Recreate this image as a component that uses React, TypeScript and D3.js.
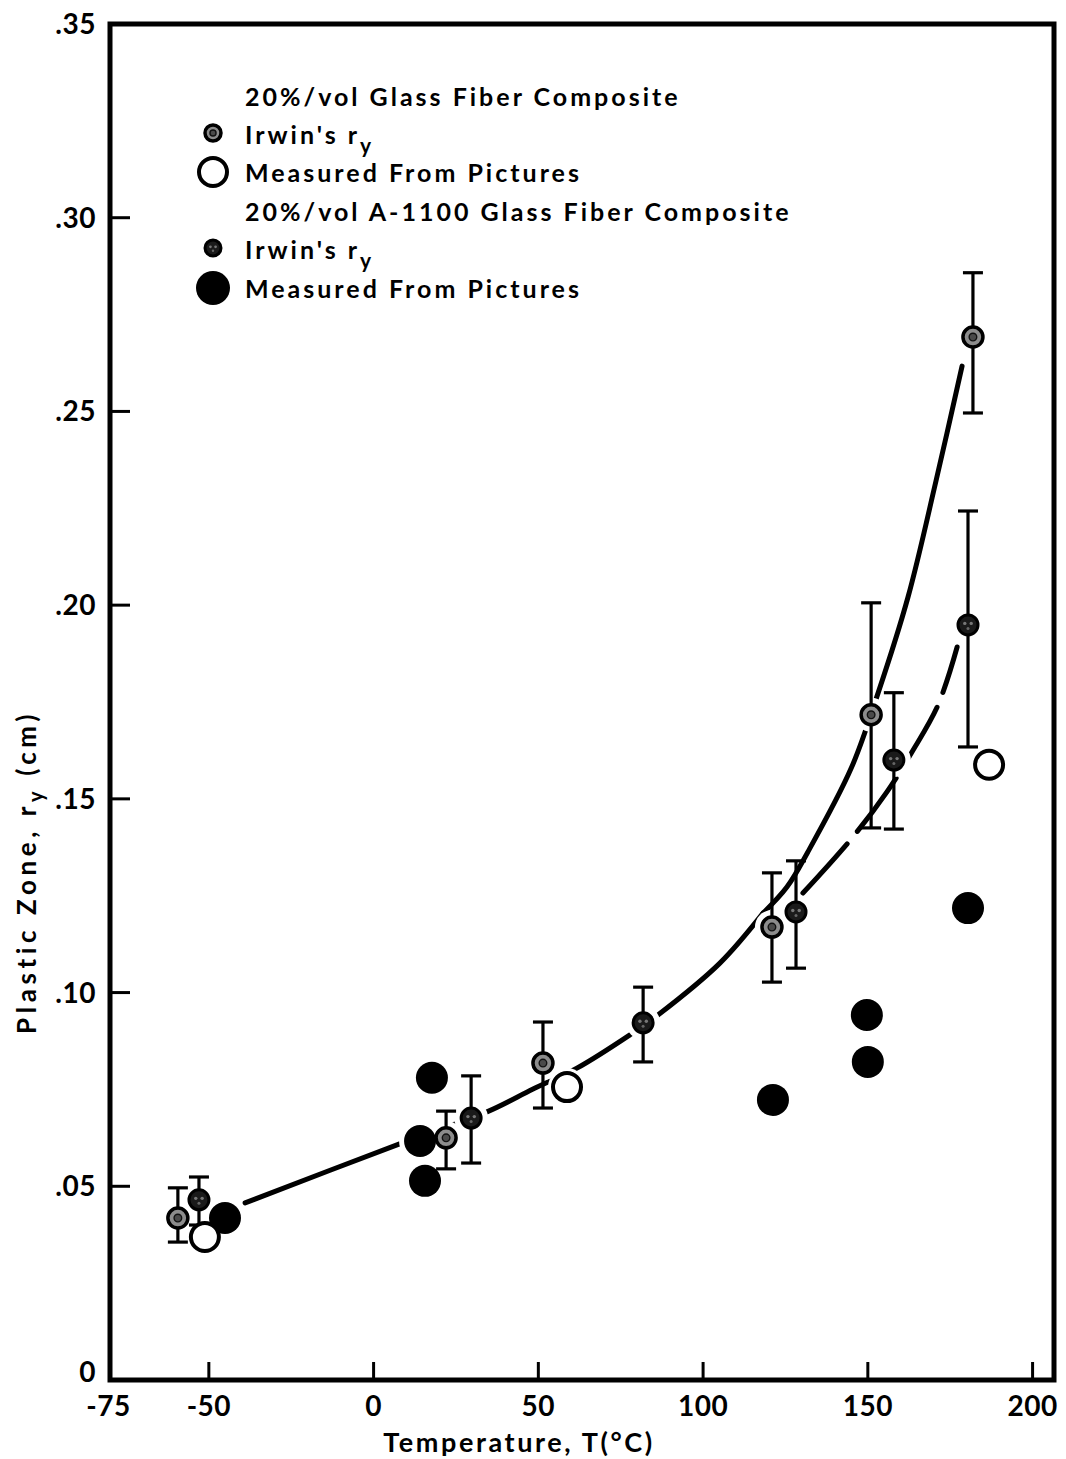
import React from "react";
import * as d3 from "d3";

const W = 1066;
const H = 1459;

// 20%/vol Glass Fiber Composite — Irwin's r_y (with error bars)
const gfIrwinT = [-59.4, 22.0, 51.4, 120.9, 151.0, 181.9];
const gfIrwinV = [0.0418, 0.0625, 0.0818, 0.1169, 0.1717, 0.2692];
const gfIrwinLo = [0.0356, 0.0545, 0.0702, 0.1027, 0.1425, 0.2496];
const gfIrwinHi = [0.0496, 0.0694, 0.0924, 0.1309, 0.2006, 0.2858];

// 20%/vol A-1100 Glass Fiber Composite — Irwin's r_y (with error bars)
const aIrwinT = [-53.0, 29.6, 81.8, 128.2, 157.9, 180.4];
const aIrwinV = [0.0465, 0.0676, 0.0922, 0.1208, 0.16, 0.1949];
const aIrwinLo = [0.040, 0.056, 0.0821, 0.1063, 0.1422, 0.1634];
const aIrwinHi = [0.0524, 0.0785, 0.1014, 0.134, 0.1774, 0.2243];

// Measured from pictures — Glass Fiber (open circles)
const gfMeasT = [-51.2, 58.7, 186.8];
const gfMeasV = [0.0369, 0.0756, 0.1588];

// Measured from pictures — A-1100 (filled circles)
const aMeasT = [-45.1, 17.7, 14.1, 15.6, 121.2, 149.7, 150.0, 180.4];
const aMeasV = [0.0418, 0.078, 0.0617, 0.0514, 0.0723, 0.0942, 0.0821, 0.1218];

// Hand-drawn trend curves
const sharedCurveT = [-39.0, 7.1, 34.4, 48.4, 61.7, 77.8, 86.3, 105.1, 118.2];
const sharedCurveV = [0.0457, 0.0607, 0.0692, 0.0751, 0.0805, 0.0891, 0.0942, 0.1076, 0.1205];
const upperCurveT = [118.2, 125.5, 131.8, 145.0, 153.1, 162.2, 170.7, 178.6];
const upperCurveV = [0.1205, 0.1273, 0.1363, 0.158, 0.1773, 0.2021, 0.2321, 0.2617];
const lowerCurveT = [130.3, 145.2, 155.8, 163.4, 171.3, 177.1];
const lowerCurveV = [0.1257, 0.1399, 0.1518, 0.1621, 0.1742, 0.1892];

// Axes
const xTicks = [-75, -50, 0, 50, 100, 150, 200];
const yTicks = [0, 0.05, 0.1, 0.15, 0.2, 0.25, 0.3, 0.35];
const yTickLabels = ["0", ".05", ".10", ".15", ".20", ".25", ".30", ".35"];

const legendRows = [
  "20%/vol Glass Fiber Composite",
  "Irwin's r",
  "Measured From Pictures",
  "20%/vol A-1100 Glass Fiber Composite",
  "Irwin's r",
  "Measured From Pictures",
];

const FONT = "Lato, 'Open Sans', sans-serif";

function GfIrwin({ cx, cy, r = 10 }: { cx: number; cy: number; r?: number }) {
  return (
    <g>
      <circle cx={cx} cy={cy} r={r} fill="#8c8c8c" stroke="#000" strokeWidth={3.5} />
      <circle cx={cx} cy={cy} r={r * 0.38} fill="#4a4a4a" stroke="#111" strokeWidth={1.4} />
    </g>
  );
}

function AIrwin({ cx, cy, r = 10 }: { cx: number; cy: number; r?: number }) {
  return (
    <g>
      <circle cx={cx} cy={cy} r={r} fill="#1a1a1a" stroke="#000" strokeWidth={3} />
      <circle cx={cx - r * 0.32} cy={cy - r * 0.15} r={r * 0.17} fill="#777" />
      <circle cx={cx + r * 0.32} cy={cy - r * 0.15} r={r * 0.17} fill="#777" />
      <circle cx={cx} cy={cy + r * 0.35} r={r * 0.15} fill="#666" />
    </g>
  );
}

export default function App() {
  const x = d3.scaleLinear().domain([-80, 206.5]).range([110, 1054]);
  const y = d3.scaleLinear().domain([0, 0.35]).range([1380, 24]);

  const mk = (ts: number[], vs: number[]) =>
    d3
      .line<[number, number]>()
      .x((d) => x(d[0]))
      .y((d) => y(d[1]))
      .curve(d3.curveCatmullRom.alpha(0.5))(ts.map((t, i) => [t, vs[i]] as [number, number])) || "";

  const sharedPath = mk(sharedCurveT, sharedCurveV);
  const upperPath = mk(upperCurveT, upperCurveV);
  const lowerPath = mk(lowerCurveT, lowerCurveV);

  const rIrwin = 10;
  const rMeas = 16;
  const rOpen = 14;
  const capW = 10;

  const gf = gfIrwinT.map((t, i) => ({ t, v: gfIrwinV[i], lo: gfIrwinLo[i], hi: gfIrwinHi[i] }));
  const a = aIrwinT.map((t, i) => ({ t, v: aIrwinV[i], lo: aIrwinLo[i], hi: aIrwinHi[i] }));
  const gm = gfMeasT.map((t, i) => ({ t, v: gfMeasV[i] }));
  const am = aMeasT.map((t, i) => ({ t, v: aMeasV[i] }));

  const x0 = x(-80);
  const x1 = x(206.5);
  const yTop = y(0.35);
  const yBot = y(0);

  const legendX = 245;
  const legendY = [106, 144, 182, 221, 259, 298];
  const legendMarkerX = 213;

  return (
    <svg
      width={W}
      height={H}
      viewBox={`0 0 ${W} ${H}`}
      style={{ position: "absolute", left: 0, top: 0, display: "block", background: "#fff" }}
      fontFamily={FONT}
    >
      <rect x={0} y={0} width={W} height={H} fill="#fff" />

      {/* curves */}
      <g fill="none" stroke="#000" strokeWidth={5} strokeLinecap="round">
        <path d={sharedPath} />
        <path d={upperPath} />
        <path d={lowerPath} strokeDasharray="66 16" />
      </g>

      {/* white halos to create gaps in curves around markers */}
      <g fill="#fff">
        {gf.map((d, i) => (
          <circle key={"hg" + i} cx={x(d.t)} cy={y(d.v)} r={rIrwin + 7} />
        ))}
        {a.map((d, i) => (
          <circle key={"ha" + i} cx={x(d.t)} cy={y(d.v)} r={rIrwin + 7} />
        ))}
        {gm.map((d, i) => (
          <circle key={"hgm" + i} cx={x(d.t)} cy={y(d.v)} r={rOpen + 5} />
        ))}
        {am.map((d, i) => (
          <circle key={"ham" + i} cx={x(d.t)} cy={y(d.v)} r={rMeas + 5} />
        ))}
      </g>

      {/* error bars */}
      <g stroke="#000" strokeWidth={3.2}>
        {[...gf, ...a].map((d, i) => {
          const cx = x(d.t);
          return (
            <g key={"e" + i}>
              <line x1={cx} x2={cx} y1={y(d.lo)} y2={y(d.hi)} />
              <line x1={cx - capW} x2={cx + capW} y1={y(d.lo)} y2={y(d.lo)} />
              <line x1={cx - capW} x2={cx + capW} y1={y(d.hi)} y2={y(d.hi)} />
            </g>
          );
        })}
      </g>

      {/* measured markers */}
      {am.map((d, i) => (
        <circle key={"am" + i} cx={x(d.t)} cy={y(d.v)} r={rMeas} fill="#000" />
      ))}
      {gm.map((d, i) => (
        <circle key={"gm" + i} cx={x(d.t)} cy={y(d.v)} r={rOpen} fill="#fff" stroke="#000" strokeWidth={4} />
      ))}

      {/* Irwin markers */}
      {gf.map((d, i) => (
        <GfIrwin key={"gi" + i} cx={x(d.t)} cy={y(d.v)} r={rIrwin} />
      ))}
      {a.map((d, i) => (
        <AIrwin key={"ai" + i} cx={x(d.t)} cy={y(d.v)} r={rIrwin} />
      ))}

      {/* frame */}
      <rect x={x0} y={yTop} width={x1 - x0} height={yBot - yTop} fill="none" stroke="#000" strokeWidth={5} />

      {/* ticks */}
      <g stroke="#000" strokeWidth={3}>
        {xTicks
          .filter((v) => v > -75)
          .map((v) => (
            <line key={"xt" + v} x1={x(v)} x2={x(v)} y1={yBot} y2={yBot - 18} />
          ))}
        {yTicks
          .filter((v) => v > 0 && v < 0.35)
          .map((v) => (
            <line key={"yt" + v} x1={x0} x2={x0 + 20} y1={y(v)} y2={y(v)} />
          ))}
      </g>

      {/* x tick labels */}
      <g fontSize={28} fontWeight={700} textAnchor="middle" fill="#000" letterSpacing={0.5}>
        {xTicks.map((v) => (
          <text key={"xl" + v} x={v === -75 ? x(v) - 18 : x(v)} y={1416}>
            {String(v)}
          </text>
        ))}
      </g>

      {/* y tick labels */}
      <g fontSize={28} fontWeight={700} textAnchor="end" fill="#000" letterSpacing={0.5}>
        {yTicks.map((v, i) => (
          <text key={"yl" + v} x={96} y={v === 0 ? y(v) + 2 : y(v) + 10}>
            {yTickLabels[i]}
          </text>
        ))}
      </g>

      {/* axis titles */}
      <text x={519} y={1452} fontSize={27} fontWeight={700} textAnchor="middle" letterSpacing={2.6}>
        Temperature, T(°C)
      </text>
      <text
        transform={`translate(36, 872) rotate(-90)`}
        fontSize={26}
        fontWeight={700}
        textAnchor="middle"
        letterSpacing={4.6}
      >
        Plastic Zone, r<tspan dy={7} fontSize={20}>y</tspan>
        <tspan dy={-7}> (cm)</tspan>
      </text>

      {/* legend */}
      <g fontSize={25} fontWeight={700} fill="#000" letterSpacing={3}>
        {legendRows.map((s, i) => (
          <text key={"lg" + i} x={legendX} y={legendY[i]}>
            {s}
            {s.startsWith("Irwin") ? (
              <tspan dy={9} fontSize={21}>
                y
              </tspan>
            ) : null}
          </text>
        ))}
      </g>
      <GfIrwin cx={legendMarkerX} cy={133} r={8} />
      <circle cx={legendMarkerX} cy={172} r={14} fill="#fff" stroke="#000" strokeWidth={4} />
      <AIrwin cx={legendMarkerX} cy={248} r={8} />
      <circle cx={legendMarkerX} cy={288} r={17} fill="#000" />
    </svg>
  );
}
